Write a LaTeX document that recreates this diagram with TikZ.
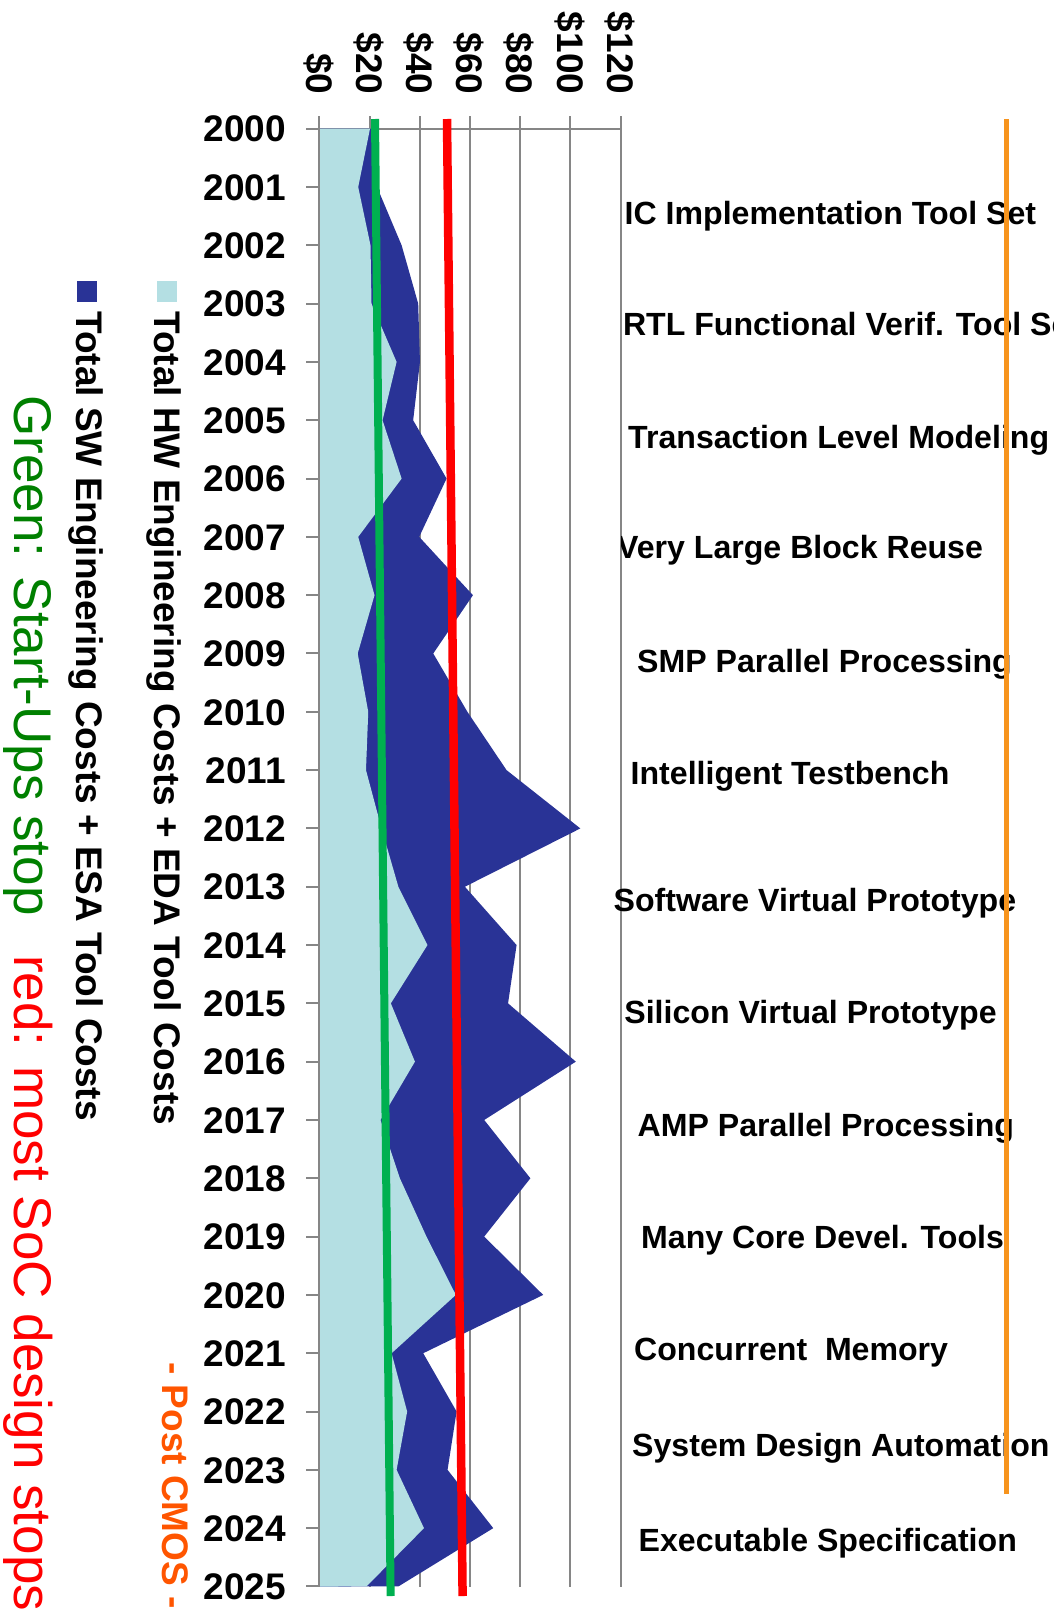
\documentclass[tikz,border=0pt]{standalone}
\usepackage{fontspec}
\setmainfont{Liberation Sans}
\definecolor{hwblue}{RGB}{180,223,227}
\definecolor{swblue}{RGB}{41,51,150}
\definecolor{gridgray}{RGB}{134,134,134}
\definecolor{startgreen}{RGB}{0,176,80}
\definecolor{txtgreen}{RGB}{0,128,0}
\definecolor{cmosorange}{RGB}{255,85,0}
\definecolor{lineorange}{RGB}{247,148,29}
\begin{document}
\begin{tikzpicture}[x=1pt,y=-1pt,
  gridline/.style={draw=gridgray,line width=2pt},
  yearlbl/.style={font=\fontsize{37}{40}\selectfont\bfseries,anchor=base east,inner sep=0pt},
  dollarlbl/.style={font=\fontsize{37}{40}\selectfont\bfseries,rotate=-90,anchor=base east,inner sep=0pt},
  toollbl/.style={font=\fontsize{32.1}{34}\selectfont\bfseries,anchor=base west,inner sep=0pt},
  legendlbl/.style={font=\fontsize{37}{40}\selectfont\bfseries,rotate=-90,anchor=base west,inner sep=0pt},
  notelbl/.style={font=\fontsize{53}{60}\selectfont,rotate=-90,anchor=base west,inner sep=0pt}]
\useasboundingbox (0,0) rectangle (1054,1612);
\clip (0,0) rectangle (1054,1612);
% grid
\foreach \v in {20,40,60,80,100,120}{
  \draw[gridline] ({319.3+2.51*\v},116) -- ({319.3+2.51*\v},1586.5);
}
\draw[gridline] (306,128.7) -- (620.5,128.7);
\foreach \n in {0,...,25}{
  \draw[gridline] (306,{128.7+58.31*\n}) -- (319.3,{128.7+58.31*\n});
}
% stacked areas
\fill[swblue] (319.3,128.7)
  \foreach \n/\hw/\tot in {0/20.2/20.5,1/15.5/23,2/20.4/32.8,3/20.8/39.4,4/30.8/40.1,5/25.2/37.4,6/32.8/50.7,7/15.5/39.8,8/22/61.2,9/15.3/45.4,10/19.5/59,11/18.6/74.6,12/24.8/104,13/31.5/58,14/43.1/78.6,15/28.5/75.2,16/38.1/102.2,17/24.4/65.7,18/32.1/84.1,19/42.7/65.7,20/54.4/89.2,21/28.8/41.4,22/35/54.7,23/30.8/51.1,24/41.7/69.3,25/18.8/31.5}
  { -- ({319.3+2.51*\tot},{128.7+58.31*\n}) } -- (319.3,1586.5) -- cycle;
\fill[hwblue] (319.3,128.7)
  \foreach \n/\hw in {0/20.2,1/15.5,2/20.4,3/20.8,4/30.8,5/25.2,6/32.8,7/15.5,8/22,9/15.3,10/19.5,11/18.6,12/24.8,13/31.5,14/43.1,15/28.5,16/38.1,17/24.4,18/32.1,19/42.7,20/54.4,21/28.8,22/35,23/30.8,24/41.7,25/18.8}
  { -- ({319.3+2.51*\hw},{128.7+58.31*\n}) } -- (319.3,1586.5) -- cycle;
\draw[gridline] (319.3,116) -- (319.3,1586.5);
% trend lines
\coordinate (gtop) at (375,119);
\coordinate (gbot) at (390.6,1596);
\coordinate (rtop) at (447,119);
\coordinate (rbot) at (462.6,1596);
\draw[startgreen,line width=8pt] (gtop) -- (gbot);
\draw[red,line width=8.5pt] (rtop) -- (rbot);
% axis labels
\foreach \n in {0,...,25}{
  \node[yearlbl] (yr\n) at (286,{128.7+58.31*\n+13.2}) {\the\numexpr2000+\n\relax};
}
\foreach \v in {0,20,40,60,80,100,120}{
  \node[dollarlbl] (usd\v) at ({319.3+2.51*\v-13.2},94.5) {\$\v};
}
% legend
\fill[hwblue] (157,281) rectangle (177,302);
\fill[swblue] (77,281) rectangle (97,302);
\node[legendlbl] (hwleg) at (154.5,311) {Total HW Engineering Costs + EDA Tool Costs};
\node[legendlbl] (swleg) at (76,311) {Total SW Engineering Costs + ESA Tool Costs};
\node[notelbl,text=txtgreen] (gnote) at (14,395) {Green: Start-Ups stop};
\node[notelbl,text=red] (rnote) at (14,955) {red: most SoC design stops};
\node[legendlbl,text=cmosorange] (cmos) at (162.5,1362) {- Post CMOS -};
% tool labels
\node[toollbl] (t1) at (624.5,224) {IC Implementation Tool Set};
\node[toollbl] (t2) at (622.8,335) {RTL Functional Verif. Tool Set};
\node[toollbl] (t3) at (628,448.3) {Transaction Level Modeling};
\begin{scope}
  \clip (621.7,500) rectangle (1054,600);
  \node[toollbl] (t4) at (617,558.3) {Very Large Block Reuse};
\end{scope}
\node[toollbl] (t5) at (637,672.5) {SMP Parallel Processing};
\node[toollbl] (t6) at (630.5,784) {Intelligent Testbench};
\node[toollbl] (t7) at (613.5,911.7) {Software Virtual Prototype};
\node[toollbl] (t8) at (624.2,1023.3) {Silicon Virtual Prototype};
\node[toollbl] (t9) at (637.5,1136) {AMP Parallel Processing};
\node[toollbl] (t10) at (641,1248) {Many Core Devel. Tools};
\node[toollbl] (t11) at (634,1360) {Concurrent~~Memory};
\node[toollbl] (t12) at (632,1456) {System Design Automation};
\node[toollbl] (t13) at (638.5,1551.7) {Executable Specification};
% post-CMOS marker
\coordinate (otop) at (1006.7,119);
\coordinate (obot) at (1006.7,1494);
\draw[lineorange,line width=5pt] (otop) -- (obot);
\end{tikzpicture}
\end{document}
